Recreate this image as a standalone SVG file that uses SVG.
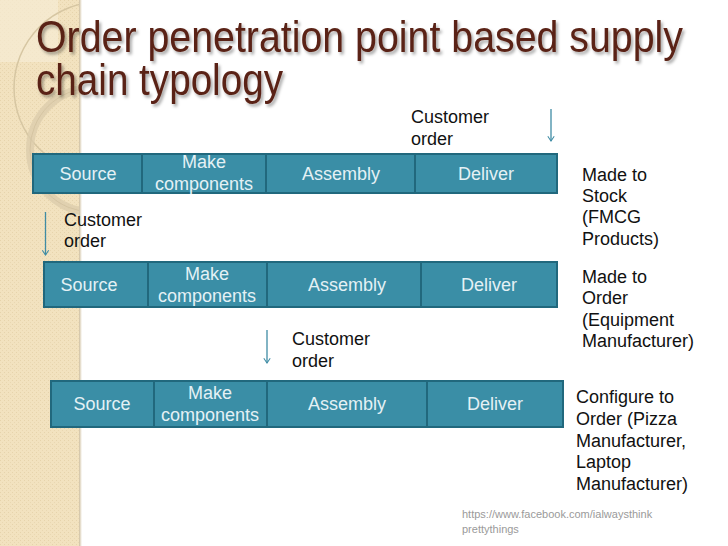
<svg xmlns="http://www.w3.org/2000/svg" width="728" height="546" viewBox="0 0 728 546">
  <defs>
    <style>
      .cell { fill: #3a8ea6; stroke: #21687d; stroke-width: 2; }
      .ct { font-family: "Liberation Sans", Arial, sans-serif; font-size: 18px; fill: #e4f1f5; text-anchor: middle; }
      .lbl { font-family: "Liberation Sans", Arial, sans-serif; font-size: 18px; fill: #111; }
      .title { font-family: "Liberation Sans", Arial, sans-serif; font-size: 44px; fill: #5a2316; }
      .arr { stroke: #3f8ca5; stroke-width: 1.3; fill: none; }
      .url { font-family: "Liberation Sans", Arial, sans-serif; font-size: 11px; fill: #9a9a9a; }
    </style>
    <pattern id="tex" width="4" height="4" patternUnits="userSpaceOnUse">
      <rect width="4" height="4" fill="#f2e2bf"/>
      <rect x="0" y="0" width="1" height="1" fill="#e6d3ab"/>
      <rect x="2" y="2" width="1" height="1" fill="#e9d7b1"/>
    </pattern>
    <linearGradient id="edge" x1="0" y1="0" x2="1" y2="0">
      <stop offset="0" stop-color="#cdbd9c"/>
      <stop offset="1" stop-color="#ffffff"/>
    </linearGradient>
    <clipPath id="side"><rect x="0" y="0" width="80" height="546"/></clipPath>
    <filter id="sh" x="-5%" y="-20%" width="110%" height="150%">
      <feDropShadow dx="2" dy="2.5" stdDeviation="1.5" flood-color="#000" flood-opacity="0.35"/>
    </filter>
    <marker id="ah" viewBox="0 0 10 10" refX="9" refY="5" markerWidth="8" markerHeight="8" markerUnits="userSpaceOnUse" orient="auto">
      <path d="M3,1 L9,5 L3,9" fill="none" stroke="#3f8ca5" stroke-width="1.3"/>
    </marker>
  </defs>

  <rect width="728" height="546" fill="#ffffff"/>

  <!-- sidebar decoration -->
  <g id="sidebar">
    <rect x="0" y="0" width="80" height="546" fill="url(#tex)"/>
    <g clip-path="url(#side)">
      <rect x="0" y="0" width="58" height="62" fill="#f7ecd4" opacity="0.7"/>
      <circle cx="100" cy="88" r="86" fill="none" stroke="#d6c6a2" stroke-width="1.5"/>
      <circle cx="92" cy="150" r="62" fill="none" stroke="#dccdad" stroke-width="8" opacity="0.8"/>
      <circle cx="92" cy="150" r="62" fill="none" stroke="#cdbd9a" stroke-width="1" opacity="0.6"/>
    </g>
    <rect x="79" y="0" width="3" height="546" fill="url(#edge)"/>
  </g>

  <!-- title -->
  <g id="title" filter="url(#sh)">
    <text class="title" x="36" y="52" textLength="647" lengthAdjust="spacingAndGlyphs">Order penetration point based supply</text>
    <text class="title" x="36" y="95" textLength="247" lengthAdjust="spacingAndGlyphs">chain typology</text>
  </g>

  <!-- connectors -->
  <g id="connectors">
    <line class="arr" x1="551" y1="109" x2="551" y2="141" marker-end="url(#ah)"/>
    <line class="arr" x1="45.5" y1="212" x2="45.5" y2="255" marker-end="url(#ah)"/>
    <line class="arr" x1="267" y1="330" x2="267" y2="363" marker-end="url(#ah)"/>
  </g>

  <!-- row 1: Made to Stock -->
  <g id="r1-source"><rect class="cell" x="33" y="154" width="109" height="39"/><text class="ct" x="88" y="180">Source</text></g>
  <g id="r1-make"><rect class="cell" x="142" y="154" width="124" height="39"/><text class="ct" x="204" y="168">Make</text><text class="ct" x="204" y="190">components</text></g>
  <g id="r1-assembly"><rect class="cell" x="266" y="154" width="149" height="39"/><text class="ct" x="341" y="180">Assembly</text></g>
  <g id="r1-deliver"><rect class="cell" x="415" y="154" width="142" height="39"/><text class="ct" x="486" y="180">Deliver</text></g>
  <g id="r1-order"><text class="lbl" x="411" y="123">Customer</text><text class="lbl" x="411" y="145">order</text></g>
  <g id="r1-type"><text class="lbl" x="582" y="181">Made to</text><text class="lbl" x="582" y="202">Stock</text><text class="lbl" x="582" y="223">(FMCG</text><text class="lbl" x="582" y="245">Products)</text></g>

  <!-- row 2: Made to Order -->
  <g id="r2-source"><rect class="cell" x="44" y="262" width="104" height="45"/><text class="ct" x="89" y="291">Source</text></g>
  <g id="r2-make"><rect class="cell" x="148" y="262" width="119" height="45"/><text class="ct" x="207" y="280">Make</text><text class="ct" x="207" y="302">components</text></g>
  <g id="r2-assembly"><rect class="cell" x="267" y="262" width="154" height="45"/><text class="ct" x="347" y="291">Assembly</text></g>
  <g id="r2-deliver"><rect class="cell" x="421" y="262" width="136" height="45"/><text class="ct" x="489" y="291">Deliver</text></g>
  <g id="r2-order"><text class="lbl" x="64" y="226">Customer</text><text class="lbl" x="64" y="247">order</text></g>
  <g id="r2-type"><text class="lbl" x="582" y="283">Made to</text><text class="lbl" x="582" y="304">Order</text><text class="lbl" x="582" y="326">(Equipment</text><text class="lbl" x="582" y="347">Manufacturer)</text></g>

  <!-- row 3: Configure to Order -->
  <g id="r3-source"><rect class="cell" x="51" y="381" width="103" height="46"/><text class="ct" x="102" y="410">Source</text></g>
  <g id="r3-make"><rect class="cell" x="154" y="381" width="113" height="46"/><text class="ct" x="210" y="399">Make</text><text class="ct" x="210" y="421">components</text></g>
  <g id="r3-assembly"><rect class="cell" x="267" y="381" width="160" height="46"/><text class="ct" x="347" y="410">Assembly</text></g>
  <g id="r3-deliver"><rect class="cell" x="427" y="381" width="136" height="46"/><text class="ct" x="495" y="410">Deliver</text></g>
  <g id="r3-order"><text class="lbl" x="292" y="345">Customer</text><text class="lbl" x="292" y="367">order</text></g>
  <g id="r3-type"><text class="lbl" x="576" y="403">Configure to</text><text class="lbl" x="576" y="425">Order (Pizza</text><text class="lbl" x="576" y="447">Manufacturer,</text><text class="lbl" x="576" y="468">Laptop</text><text class="lbl" x="576" y="490">Manufacturer)</text></g>

  <g id="credit">
    <text class="url" x="462" y="518">https://www.facebook.com/ialwaysthink</text>
    <text class="url" x="462" y="533">prettythings</text>
  </g>
</svg>
